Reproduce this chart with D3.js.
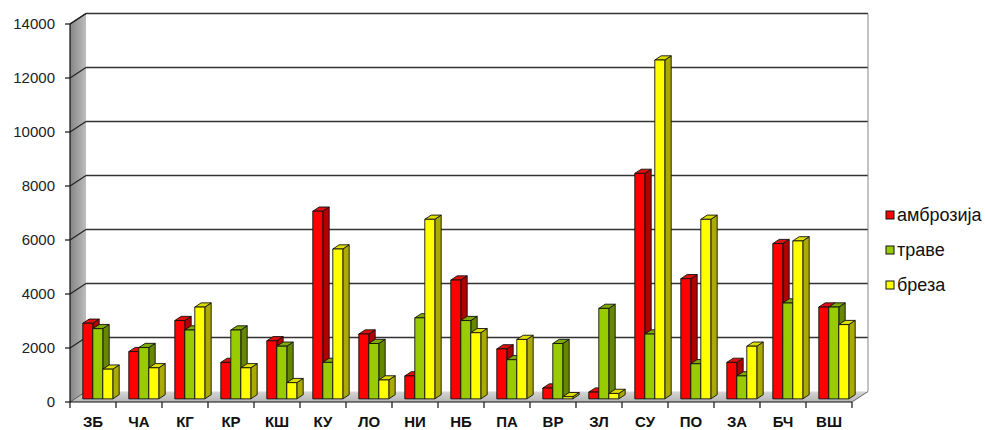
<!DOCTYPE html>
<html>
<head>
<meta charset="utf-8">
<script src="https://cdn.jsdelivr.net/npm/d3@7"></script>
<style>
  html, body { margin: 0; padding: 0; background: #fff; }
  svg { display: block; }
  text { font-family: Arial, "Liberation Sans", sans-serif; }
</style>
</head>
<body>
<svg id="chart" width="985" height="430"></svg>
<script>
// Pollen counts per station
const categories = ['ЗБ','ЧА','КГ','КР','КШ','КУ','ЛО','НИ','НБ','ПА','ВР','ЗЛ','СУ','ПО','ЗА','БЧ','ВШ'];
const seriesNames = ['амброзија','траве','бреза'];
const ambrozija = [2800,1750,2900,1350,2150,6950,2400,850,4400,1850,400,250,8350,4450,1350,5750,3400];
const trave     = [2600,1900,2550,2550,1950,1350,2050,3000,2900,1450,2050,3350,2400,1300,850,3550,3400];
const breza     = [1100,1150,3400,1150,600,5550,700,6650,2450,2200,80,200,12550,6650,1950,5850,2750];
const yTicks = [0,2000,4000,6000,8000,10000,12000,14000];

const seriesValues = [ambrozija, trave, breza];
const faceColors = [
  { front: '#ff0000', side: '#b00000', top: '#e01010' },
  { front: '#99cc00', side: '#668800', top: '#80aa00' },
  { front: '#ffff00', side: '#aaaa00', top: '#dddd00' }
];

const svg = d3.select('#chart');

// Floor/front geometry and 3D depth offset
const x0 = 70, x1 = 852, yBase = 402, yTop = 24;
const DX = 16, DY = -10.5;
const t0 = 0.3, t1 = 0.7;

const y = d3.scaleLinear().domain([0, 14000]).range([yBase, yTop]);
const x = d3.scaleBand().domain(categories).range([x0, x1]).paddingInner(0).paddingOuter(0);
const xs = d3.scaleBand().domain(seriesNames).range([0, x.bandwidth()]).paddingInner(0).paddingOuter(0.8);

const defs = svg.append('defs');
const wallGrad = defs.append('linearGradient').attr('id', 'wallGrad')
  .attr('x1', '0').attr('x2', '1').attr('y1', '0').attr('y2', '0');
wallGrad.append('stop').attr('offset', '0').attr('stop-color', '#858585');
wallGrad.append('stop').attr('offset', '1').attr('stop-color', '#bdbdbd');
const floorGrad = defs.append('linearGradient').attr('id', 'floorGrad')
  .attr('x1', '0').attr('x2', '0').attr('y1', '0').attr('y2', '1');
floorGrad.append('stop').attr('offset', '0').attr('stop-color', '#d6d6d6');
floorGrad.append('stop').attr('offset', '1').attr('stop-color', '#b4b4b4');

const pts = a => a.map(p => p.join(',')).join(' ');

// Left side wall
svg.append('polygon')
  .attr('points', pts([[x0, y(0)], [x0, y(14000)], [x0 + DX, y(14000) + DY], [x0 + DX, y(0) + DY]]))
  .attr('fill', 'url(#wallGrad)');

// Floor
svg.append('polygon')
  .attr('points', pts([[x0, y(0)], [x1, y(0)], [x1 + DX, y(0) + DY], [x0 + DX, y(0) + DY]]))
  .attr('fill', 'url(#floorGrad)');

// Gridlines on the side wall and back wall
const grid = svg.append('g');
yTicks.filter(v => v > 0).forEach(v => {
  grid.append('line')
    .attr('x1', x0).attr('y1', y(v)).attr('x2', x0 + DX).attr('y2', y(v) + DY)
    .attr('stroke', '#222').attr('stroke-width', 1.2);
  grid.append('line')
    .attr('x1', x0 + DX).attr('y1', y(v) + DY).attr('x2', x1 + DX).attr('y2', y(v) + DY)
    .attr('stroke', '#333').attr('stroke-width', 1.3);
});
// Back wall right edge
grid.append('line')
  .attr('x1', x1 + DX).attr('y1', y(14000) + DY).attr('x2', x1 + DX).attr('y2', y(0) + DY)
  .attr('stroke', '#888').attr('stroke-width', 1);
// Floor edges
grid.append('line')
  .attr('x1', x1).attr('y1', y(0)).attr('x2', x1 + DX).attr('y2', y(0) + DY)
  .attr('stroke', '#666').attr('stroke-width', 1);
grid.append('line')
  .attr('x1', x0).attr('y1', y(0)).attr('x2', x0 + DX).attr('y2', y(0) + DY)
  .attr('stroke', '#555').attr('stroke-width', 1);

// 3D columns
const bars = svg.append('g');
categories.forEach((c, ci) => {
  seriesNames.forEach((s, si) => {
    const v = seriesValues[si][ci];
    const w = xs.bandwidth();
    const fx = x(c) + xs(s) + DX * t0;
    const fyB = y(0) + DY * t0;
    const fyT = y(v) + DY * t0;
    const ddx = DX * (t1 - t0), ddy = DY * (t1 - t0);
    const col = faceColors[si];
    const g = bars.append('g').attr('stroke', '#111').attr('stroke-width', 0.9).attr('stroke-linejoin', 'round');
    g.append('polygon')
      .attr('points', pts([[fx + w, fyB], [fx + w, fyT], [fx + w + ddx, fyT + ddy], [fx + w + ddx, fyB + ddy]]))
      .attr('fill', col.side);
    g.append('polygon')
      .attr('points', pts([[fx, fyT], [fx + w, fyT], [fx + w + ddx, fyT + ddy], [fx + ddx, fyT + ddy]]))
      .attr('fill', col.top);
    g.append('rect')
      .attr('x', fx).attr('y', fyT).attr('width', w).attr('height', fyB - fyT)
      .attr('fill', col.front);
  });
});

// Value axis
const yAxis = svg.append('g');
yAxis.append('line')
  .attr('x1', x0).attr('y1', y(0)).attr('x2', x0).attr('y2', y(14000))
  .attr('stroke', '#111').attr('stroke-width', 1.2);
yAxis.append('line')
  .attr('x1', x0).attr('y1', y(14000)).attr('x2', x0 + DX).attr('y2', y(14000) + DY)
  .attr('stroke', '#222').attr('stroke-width', 1.2);
yTicks.forEach(v => {
  yAxis.append('line')
    .attr('x1', x0 - 5).attr('y1', y(v)).attr('x2', x0).attr('y2', y(v))
    .attr('stroke', '#111').attr('stroke-width', 1.2);
  yAxis.append('text')
    .attr('x', 55).attr('y', y(v)).attr('dy', '0.35em')
    .attr('text-anchor', 'end').attr('font-size', 15).attr('fill', '#222')
    .text(v);
});

// Category axis
const xAxis = svg.append('g');
xAxis.append('line')
  .attr('x1', x0).attr('y1', y(0)).attr('x2', x1).attr('y2', y(0))
  .attr('stroke', '#111').attr('stroke-width', 1.2);
categories.concat(['']).forEach((c, i) => {
  const tx = x0 + i * x.step();
  xAxis.append('line')
    .attr('x1', tx).attr('y1', y(0)).attr('x2', tx).attr('y2', y(0) + 6)
    .attr('stroke', '#111').attr('stroke-width', 1.2);
});
categories.forEach(c => {
  xAxis.append('text')
    .attr('x', x(c) + x.bandwidth() / 2).attr('y', 427)
    .attr('text-anchor', 'middle').attr('font-size', 15).attr('font-weight', 'bold').attr('fill', '#111')
    .text(c);
});

// Legend
const legend = svg.append('g');
seriesNames.forEach((s, i) => {
  const ly = 215 + i * 35;
  legend.append('rect')
    .attr('x', 886).attr('y', ly - 4).attr('width', 8).attr('height', 8)
    .attr('fill', faceColors[i].front).attr('stroke', '#111').attr('stroke-width', 1);
  legend.append('text')
    .attr('x', 897).attr('y', ly).attr('dy', '0.35em')
    .attr('font-size', 18).attr('fill', '#111')
    .text(s);
});
</script>
</body>
</html>
